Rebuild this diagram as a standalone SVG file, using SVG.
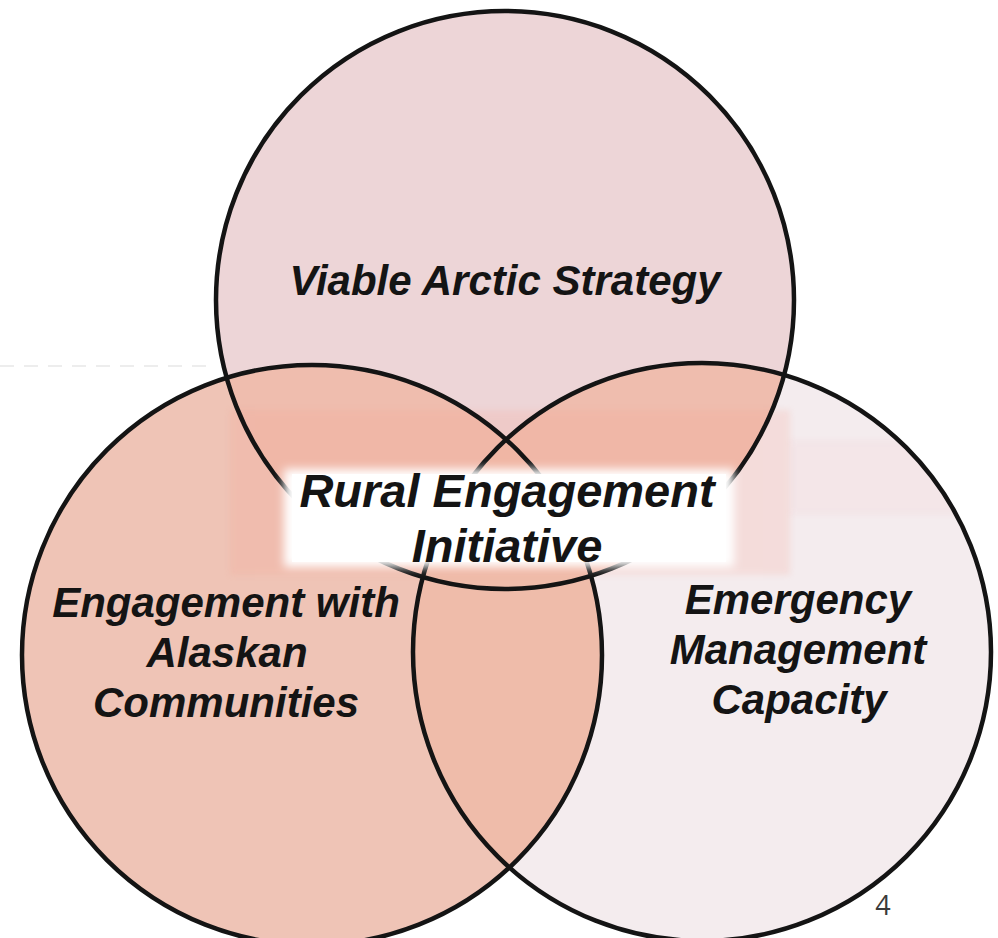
<svg xmlns="http://www.w3.org/2000/svg" width="998" height="938" viewBox="0 0 998 938">
  <style>
    .ring { fill: none; stroke: #141414; stroke-width: 4.5; }
    .lbl { font-family: "Liberation Sans", Arial, sans-serif; font-weight: bold; font-style: italic; font-size: 42px; fill: #141414; text-anchor: middle; }
    .lbl-c { font-size: 47px; }
    .pg { font-family: "Open Sans", "Liberation Sans", sans-serif; font-size: 27px; fill: #3a3a3a; text-anchor: middle; }
  </style>
  <defs>
    <clipPath id="cTop"><circle cx="505" cy="300" r="289"/></clipPath>
    <clipPath id="cLeft"><circle cx="312" cy="655" r="290"/></clipPath>
    <clipPath id="cRight"><circle cx="702" cy="652" r="289"/></clipPath>
    <clipPath id="cAll">
      <circle cx="505" cy="300" r="289"/>
      <circle cx="312" cy="655" r="290"/>
      <circle cx="702" cy="652" r="289"/>
    </clipPath>
    <filter id="soft" x="-10%" y="-20%" width="120%" height="140%">
      <feGaussianBlur stdDeviation="5"/>
    </filter>
    <filter id="soft2" x="-10%" y="-20%" width="120%" height="140%">
      <feGaussianBlur stdDeviation="3"/>
    </filter>
  </defs>
  <rect width="998" height="938" fill="#ffffff"/>
  <line x1="0" y1="366" x2="215" y2="366" stroke="#dcdcdc" stroke-width="2" stroke-dasharray="14 10" opacity="0.5"/>

  <!-- circle fills -->
  <g id="fills">
    <circle cx="505" cy="300" r="289" fill="#edd5d7"/>
    <circle cx="312" cy="655" r="290" fill="#efc4b6"/>
    <circle cx="702" cy="652" r="289" fill="#f4ecee"/>
    <g clip-path="url(#cTop)">
      <circle cx="312" cy="655" r="290" fill="#efbdae"/>
      <circle cx="702" cy="652" r="289" fill="#efbdae"/>
    </g>
    <g clip-path="url(#cLeft)">
      <circle cx="702" cy="652" r="289" fill="#efbcaa"/>
    </g>
    <g clip-path="url(#cAll)">
      <rect x="230" y="410" width="560" height="165" fill="#f5a090" opacity="0.2" filter="url(#soft2)"/>
      <rect x="790" y="440" width="170" height="75" fill="#f5a0a8" opacity="0.08" filter="url(#soft2)"/>
    </g>
  </g>

  <g id="node-top">
    <circle class="ring" cx="505" cy="300" r="289"/>
    <text class="lbl" x="505" y="295">Viable Arctic Strategy</text>
  </g>
  <g id="node-left">
    <circle class="ring" cx="312" cy="655" r="290"/>
    <text class="lbl" x="226" y="617">Engagement with</text>
    <text class="lbl" x="227" y="667">Alaskan</text>
    <text class="lbl" x="226" y="717">Communities</text>
  </g>
  <g id="node-right">
    <circle class="ring" cx="702" cy="652" r="289"/>
    <text class="lbl" x="798" y="614">Emergency</text>
    <text class="lbl" x="798" y="664">Management</text>
    <text class="lbl" x="799" y="714">Capacity</text>
  </g>

  <g id="connectors"/>

  <g id="node-center">
    <rect x="284" y="469" width="450" height="98" fill="#ffffff" filter="url(#soft)"/>
    <rect x="292" y="474" width="434" height="88" fill="#ffffff"/>
    <text class="lbl lbl-c" x="507" y="507">Rural Engagement</text>
    <text class="lbl lbl-c" x="507" y="562">Initiative</text>
  </g>

  <g id="page-number">
    <text class="pg" x="883" y="915">4</text>
  </g>
</svg>
